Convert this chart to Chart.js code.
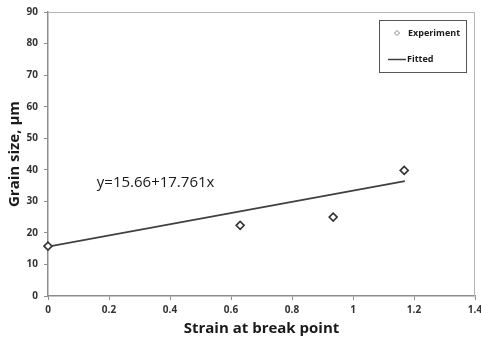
<!DOCTYPE html>
<html>
<head>
<meta charset="utf-8">
<script src="https://cdn.jsdelivr.net/npm/chart.js@4/dist/chart.umd.min.js"></script>
<style>
  html, body { margin: 0; padding: 0; background: #fff; }
  #wrap { width: 481px; height: 344px; }
</style>
</head>
<body>
<div id="wrap"><canvas id="c" width="481" height="344"></canvas></div>
<script>
// Measured grain size against strain at break point
const strainValues = [0, 0.63, 0.935, 1.168];
const grainSizes   = [15.8, 22.4, 25.0, 39.8];

// Linear fit y = a + b·x, drawn over the measured strain range
const fitIntercept = 15.66;
const fitSlope = 17.761;
const fitRange = [0, 1.17];

const xTicks = [0, 0.2, 0.4, 0.6, 0.8, 1, 1.2, 1.4];
const yTicks = [0, 10, 20, 30, 40, 50, 60, 70, 80, 90];

const equationText = 'y=' + fitIntercept + '+' + fitSlope + 'x';

const experimentPoints = strainValues.map((x, i) => ({ x: x, y: grainSizes[i] }));
const fittedPoints = fitRange.map(x => ({ x: x, y: fitIntercept + fitSlope * x }));

const FONT = '"Open Sans", "Noto Sans", sans-serif';

// Frame, fit equation and boxed legend inside the plot area
const decorations = {
  id: 'decorations',
  afterDraw(chart) {
    const ctx = chart.ctx;
    const a = chart.chartArea;
    const xs = chart.scales.x, ys = chart.scales.y;
    ctx.save();
    // light frame on top and right
    ctx.strokeStyle = '#b4b4b4';
    ctx.lineWidth = 1;
    ctx.beginPath();
    ctx.moveTo(a.left, a.top + 0.5);
    ctx.lineTo(a.right - 0.5, a.top + 0.5);
    ctx.lineTo(a.right - 0.5, a.bottom);
    ctx.stroke();

    // fit equation
    ctx.fillStyle = '#1a1a1a';
    ctx.font = '15px ' + FONT;
    ctx.textBaseline = 'middle';
    ctx.textAlign = 'left';
    ctx.fillText(equationText, xs.getPixelForValue(0.16), ys.getPixelForValue(35.9));

    // legend box
    const bx = 379.5, by = 20.5, bw = 87, bh = 52;
    ctx.strokeStyle = '#555';
    ctx.lineWidth = 1;
    ctx.fillStyle = '#fff';
    ctx.fillRect(bx, by, bw, bh);
    ctx.strokeRect(bx, by, bw, bh);

    const ds = chart.data.datasets;
    ctx.font = 'bold 9px ' + FONT;
    ctx.fillStyle = '#1a1a1a';
    // Experiment entry: small diamond
    const my = 33;
    ctx.strokeStyle = '#888';
    ctx.lineWidth = 1;
    ctx.beginPath();
    ctx.moveTo(397, my - 2.5); ctx.lineTo(399.5, my); ctx.lineTo(397, my + 2.5); ctx.lineTo(394.5, my);
    ctx.closePath();
    ctx.stroke();
    ctx.fillText(ds[0].label, 408, my);
    // Fitted entry: line
    const ly = 59.5;
    ctx.strokeStyle = '#404040';
    ctx.lineWidth = 1.5;
    ctx.beginPath();
    ctx.moveTo(388, ly); ctx.lineTo(406, ly);
    ctx.stroke();
    ctx.fillText(ds[1].label, 407, ly);
    ctx.restore();
  }
};

new Chart(document.getElementById('c'), {
  type: 'scatter',
  data: {
    datasets: [
      {
        label: 'Experiment',
        data: experimentPoints,
        pointStyle: 'rectRot',
        pointRadius: 4,
        pointBackgroundColor: '#ffffff',
        pointBorderColor: '#333333',
        pointBorderWidth: 1.6,
        showLine: false,
        clip: false,
        order: 1
      },
      {
        label: 'Fitted',
        data: fittedPoints,
        showLine: true,
        borderColor: '#404040',
        borderWidth: 1.8,
        pointRadius: 0,
        fill: false,
        order: 2
      }
    ]
  },
  options: {
    responsive: false,
    animation: false,
    layout: { padding: { top: 11, right: 6, left: 0, bottom: 0 } },
    plugins: { legend: { display: false }, tooltip: { enabled: false } },
    scales: {
      x: {
        type: 'linear',
        min: 0, max: 1.4,
        afterBuildTicks(scale) { scale.ticks = xTicks.map(v => ({ value: v })); },
        afterFit(scale) { scale.height = 48; scale.paddingRight = 0; scale.paddingLeft = 0; },
        grid: { drawOnChartArea: false, color: '#8c8c8c', tickLength: 4 },
        border: { color: '#8c8c8c', width: 1.5 },
        ticks: {
          color: '#333', padding: 4,
          font: { family: FONT, size: 10, weight: 'bold' },
          callback: v => String(v)
        },
        title: {
          display: true, text: 'Strain at break point', color: '#1a1a1a',
          font: { family: FONT, size: 15, weight: 'bold' }, padding: { top: 0, bottom: 6 }
        }
      },
      y: {
        type: 'linear',
        min: 0, max: 90,
        afterBuildTicks(scale) { scale.ticks = yTicks.map(v => ({ value: v })); },
        afterFit(scale) { scale.width = 48; },
        grid: { drawOnChartArea: false, color: '#8c8c8c', tickLength: 4 },
        border: { color: '#8c8c8c', width: 1.5 },
        ticks: {
          color: '#333', padding: 6,
          font: { family: FONT, size: 10, weight: 'bold' }
        },
        title: {
          display: true, text: 'Grain size, µm', color: '#1a1a1a',
          font: { family: FONT, size: 15, weight: 'bold' }, padding: { top: 6, bottom: 0 }
        }
      }
    }
  },
  plugins: [decorations]
});
</script>
</body>
</html>
